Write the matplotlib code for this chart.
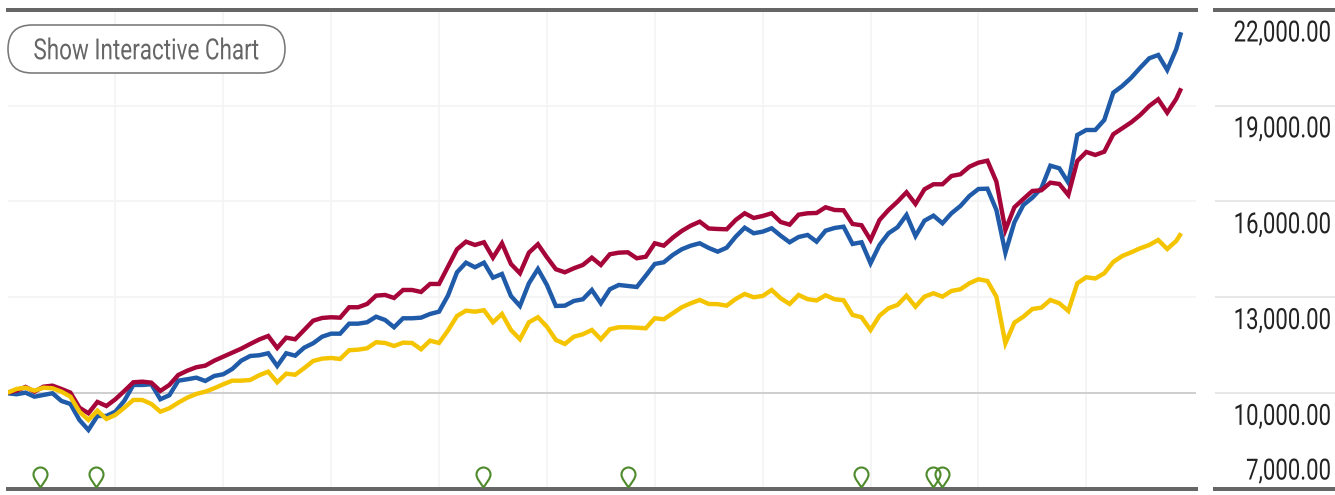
import matplotlib
matplotlib.use("Agg")
import matplotlib.pyplot as plt
from matplotlib.path import Path
from matplotlib.patches import FancyBboxPatch
from matplotlib.patheffects import AbstractPathEffect
from matplotlib.transforms import Affine2D, IdentityTransform

# ---------- data ----------
months = list(range(131)) + [130.55]
fund = [9997,9966,10016,9890,9944,9997,9756,9662,9161,8848,9286,9286,9421,9765,10257,10257,10279,9809,9934,10391,
        10435,10485,10382,10538,10592,10757,11017,11164,11186,11249,10851,11249,11174,11424,11562,11768,11862,11862,12175,12175,
        12219,12394,12291,12063,12344,12344,12363,12479,12551,13058,13784,14085,13941,14085,13615,13731,13042,12729,13440,13887,
        13387,12729,12739,12886,12939,13230,12814,13252,13387,13355,13324,13678,14044,14097,14326,14504,14617,14692,14545,14429,
        14554,14898,15180,15005,15055,15161,14930,14723,14889,14952,14742,15086,15171,15211,14670,14723,14066,14639,15005,15193,
        15578,14920,15399,15556,15318,15631,15859,16172,16391,16401,15734,14398,15349,15891,16119,16413,17121,17039,16589,18082,
        18238,18238,18551,19406,19615,19875,20188,20482,20586,20116,20764,21296]
benchmark = [10016,10078,10194,10047,10203,10235,10131,10016,9546,9371,9725,9599,9809,10069,10341,10360,10329,10069,10257,10570,
             10704,10811,10861,11017,11142,11268,11393,11540,11681,11790,11415,11737,11687,11978,12269,12354,12376,12363,12689,12689,
             12792,13052,13074,12980,13230,13230,13168,13418,13418,13959,14504,14742,14639,14723,14241,14692,14044,13753,14398,14661,
             14254,13878,13784,13909,14013,14241,14013,14348,14398,14410,14222,14272,14692,14617,14867,15077,15243,15368,15155,15139,
             15130,15421,15631,15484,15546,15631,15359,15274,15587,15631,15640,15819,15734,15725,15296,15255,14795,15421,15734,15994,
             16288,15922,16382,16539,16539,16798,16852,17089,17215,17277,16620,15108,15819,16078,16329,16351,16589,16548,16204,17268,
             17550,17456,17559,18104,18291,18479,18708,18989,19199,18780,19208,19543]
category = [10016,10131,10172,10078,10172,10153,10047,9890,9421,9161,9452,9192,9318,9546,9787,9787,9662,9421,9527,9703,
            9859,9975,10047,10153,10279,10391,10391,10413,10560,10673,10341,10610,10576,10783,11008,11080,11102,11070,11343,11362,
            11405,11593,11571,11477,11581,11571,11374,11643,11571,11963,12416,12582,12551,12595,12219,12479,11978,11687,12219,12376,
            12081,11665,11540,11768,11844,11978,11687,12000,12063,12063,12050,12031,12344,12313,12501,12689,12814,12917,12792,12786,
            12739,12948,13105,13002,13042,13230,12970,12792,13074,12942,12902,13064,12939,12908,12448,12376,11978,12426,12657,12761,
            13052,12707,13020,13127,13020,13199,13252,13440,13565,13512,13020,11562,12207,12394,12635,12676,12917,12814,12573,13440,
            13628,13590,13753,14107,14294,14410,14535,14639,14795,14513,14764,15005]
y_ticks = [7000, 10000, 13000, 16000, 19000, 22000]
y_labels = ["7,000.00", "10,000.00", "13,000.00", "16,000.00", "19,000.00", "22,000.00"]
year_ticks = [12, 24, 36, 48, 60, 72, 84, 96, 108, 120]
event_months = [3.67, 9.87, 52.9, 69.0, 94.97, 102.9, 103.9]
event_level = [7060] * len(event_months)
button_label = "Show Interactive Chart"

# ---------- layout ----------
W, H = 1335, 495
plt.rcParams["font.family"] = ["Roboto", "Liberation Sans", "DejaVu Sans"]
fig = plt.figure(figsize=(W / 100, H / 100), dpi=100, facecolor="white")
px = 72 / 100


class Condense(AbstractPathEffect):
    """Squeeze real text horizontally around a fixed pixel column."""

    def __init__(self, factor, anchor_px):
        super().__init__()
        self.factor = factor
        self.anchor_px = anchor_px

    def draw_path(self, renderer, gc, tpath, affine, rgbFace=None):
        squeeze = Affine2D().translate(-self.anchor_px, 0).scale(self.factor, 1).translate(self.anchor_px, 0)
        renderer.draw_path(gc, tpath, affine + squeeze, rgbFace)


def axes_px(x0, x1, ytop, ybottom):
    return fig.add_axes([x0 / W, 1 - ybottom / H, (x1 - x0) / W, (ybottom - ytop) / H])


ax = axes_px(7.5, 1196, 9.8, 489)
ax.set_xlim(0, (1196 - 7.5) / 8.99)
ax.set_ylim(7000, 22000)
ax.set_facecolor("none")
for s in ("left", "right"):
    ax.spines[s].set_visible(False)
for s in ("top", "bottom"):
    ax.spines[s].set_color("#666666")
    ax.spines[s].set_linewidth(4 * px)
ax.set_xticks(year_ticks)
ax.set_yticks(y_ticks[1:-1])
ax.tick_params(length=0, labelbottom=False, labelleft=False)
ax.grid(True, color="#f3f3f3", linewidth=1.6 * px)
ax.set_axisbelow(True)
ax.axhline(10000, color="#cfcfcf", linewidth=2 * px, zorder=1.5)

lw = 4.4 * px
for series, col in ((fund, "#1f5ba8"), (benchmark, "#a6053a"), (category, "#f5c400")):
    ax.plot(months, series, color=col, linewidth=lw, solid_joinstyle="miter",
            solid_capstyle="butt", zorder=3)

# teardrop event markers: tip at the origin
r = 7.0
k = 0.5523 * r
cy = 13.0
pin = Path(
    [(0, 0), (-r * 0.45, 5.0), (-r, 9.0), (-r, cy), (-r, cy + k), (-k, cy + r), (0, cy + r),
     (k, cy + r), (r, cy + k), (r, cy), (r, 9.0), (r * 0.45, 5.0), (0, 0)],
    [Path.MOVETO] + [Path.CURVE4] * 12,
)
ax.plot(event_months, event_level, linestyle="none", marker=pin, markersize=2 * (cy + r) * px,
        markerfacecolor="none", markeredgecolor="#4f8a2c", markeredgewidth=2.1 * px,
        clip_on=False, zorder=4)

# right-hand value scale
ax2 = axes_px(1215, 1335, 9.8, 489)
ax2.set_xlim(0, 1)
ax2.set_ylim(7000, 22000)
ax2.set_facecolor("none")
ax2.set_xticks([])
ax2.set_yticks(y_ticks[1:-1])
ax2.tick_params(length=0, labelleft=False)
ax2.grid(True, axis="y", color="#e2e2e2", linewidth=1.6 * px)
for s in ("left", "right"):
    ax2.spines[s].set_visible(False)
for s in ("top", "bottom"):
    ax2.spines[s].set_color("#666666")
    ax2.spines[s].set_linewidth(4 * px)
label_right = 1331
for val, lab in zip(y_ticks, y_labels):
    off = 9.5 if val == y_ticks[0] else -31.7
    t = ax2.annotate(lab, xy=(1, val), xycoords=("axes fraction", "data"),
                     xytext=((label_right - 1335) * px, off * px), textcoords="offset points",
                     ha="right", va="baseline", fontsize=21, fontweight="normal", color="#222222",
                     annotation_clip=False)
    t.set_path_effects([Condense(0.76, label_right)])

# button
tr = IdentityTransform()
fig.patches.append(FancyBboxPatch((8 + 24, H - 73 + 24), 277 - 48, 48 - 48,
                                  boxstyle="round,pad=24,rounding_size=24", transform=tr,
                                  facecolor="white", edgecolor="#787878", linewidth=1.6 * px,
                                  figure=fig, zorder=5))
bt = fig.text(146.2 / W, 1 - 59.3 / H, button_label, ha="center", va="baseline", fontsize=21,
              fontweight="normal", color="#666666", zorder=6)
bt.set_path_effects([Condense(0.77, 146.2)])

fig.savefig("out.png", dpi=100)
